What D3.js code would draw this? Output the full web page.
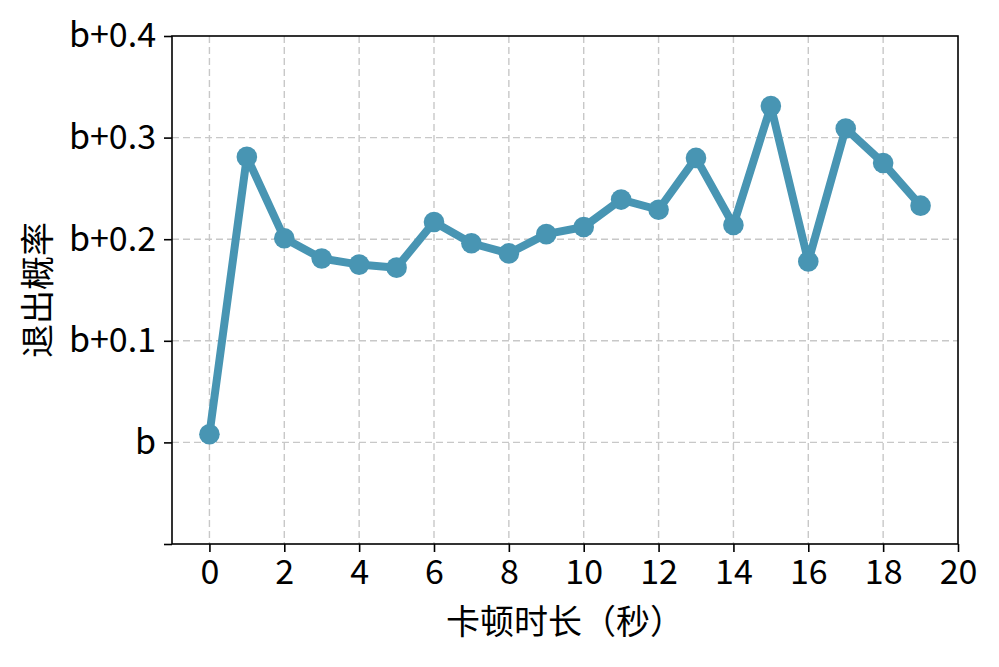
<!DOCTYPE html>
<html><head><meta charset="utf-8">
<script src="https://cdn.jsdelivr.net/npm/d3@7"></script>
<style>body{margin:0;background:#fff;} svg{display:block;}</style>
</head><body>
<svg id="c" width="999" height="667"></svg>
<script>
const xValues = [0,1,2,3,4,5,6,7,8,9,10,11,12,13,14,15,16,17,18,19];
const exitProb = [0.008,0.281,0.201,0.181,0.175,0.172,0.217,0.196,0.186,0.205,0.212,0.239,0.229,0.280,0.214,0.331,0.178,0.309,0.275,0.233];
const xTicks = [0,2,4,6,8,10,12,14,16,18,20];
const yTicks = [-0.1,0,0.1,0.2,0.3,0.4];
const yTickLabels = ["","b","b+0.1","b+0.2","b+0.3","b+0.4"];
const xLabel = "卡顿时长（秒）";
const yLabel = "退出概率";

const font = "'Noto Sans CJK SC','Noto Sans',sans-serif";
const svg = d3.select("#c");
const m = {l:172, r:958, t:36, b:544};
const x = d3.scaleLinear().domain([-1,20]).range([m.l,m.r]);
const y = d3.scaleLinear().domain([-0.1,0.4]).range([m.b,m.t]);
const color = "#4895b3";

// grid
const g = svg.append("g");
g.selectAll(".vg").data(xTicks.filter(d=>d<20)).enter().append("line")
  .attr("x1",d=>x(d)).attr("x2",d=>x(d)).attr("y1",m.t).attr("y2",m.b)
  .attr("stroke","#c8c8c8").attr("stroke-width",1.4).attr("stroke-dasharray","7,4");
g.selectAll(".hg").data(yTicks.filter(d=>d>-0.1 && d<0.4)).enter().append("line")
  .attr("x1",m.l).attr("x2",m.r).attr("y1",d=>y(d)).attr("y2",d=>y(d))
  .attr("stroke","#c8c8c8").attr("stroke-width",1.4).attr("stroke-dasharray","7,4");

// axes
const xa = svg.append("g").attr("transform",`translate(0,${m.b})`)
  .call(d3.axisBottom(x).tickValues(xTicks).tickSize(8).tickPadding(8).tickSizeOuter(0));
const ya = svg.append("g").attr("transform",`translate(${m.l},0)`)
  .call(d3.axisLeft(y).tickValues(yTicks).tickFormat((d,i)=>yTickLabels[i]).tickSize(8).tickPadding(8).tickSizeOuter(0));
[xa,ya].forEach(a=>{
  a.select(".domain").remove();
  a.selectAll(".tick line").attr("stroke","#000").attr("stroke-width",1.6);
  a.selectAll(".tick text").attr("fill","#000").style("font-family",font).style("font-size","34px");
});
// frame
svg.append("rect").attr("x",m.l).attr("y",m.t).attr("width",m.r-m.l).attr("height",m.b-m.t)
  .attr("fill","none").attr("stroke","#000").attr("stroke-width",1.6);

// line
const data = xValues.map((d,i)=>[d,exitProb[i]]);
svg.append("path").datum(data)
  .attr("d",d3.line().x(d=>x(d[0])).y(d=>y(d[1])))
  .attr("fill","none").attr("stroke",color).attr("stroke-width",8).attr("stroke-linejoin","round");
svg.selectAll(".pt").data(data).enter().append("circle")
  .attr("cx",d=>x(d[0])).attr("cy",d=>y(d[1])).attr("r",10.3).attr("fill",color);

// labels
svg.append("text").attr("x",(m.l+m.r)/2).attr("y",634).attr("text-anchor","middle")
  .style("font-family",font).style("font-size","34px").attr("fill","#000").text(xLabel);
svg.append("text").attr("transform",`translate(50,${(m.t+m.b)/2}) rotate(-90)`).attr("text-anchor","middle")
  .style("font-family",font).style("font-size","34px").attr("fill","#000").text(yLabel);
</script>
</body></html>
